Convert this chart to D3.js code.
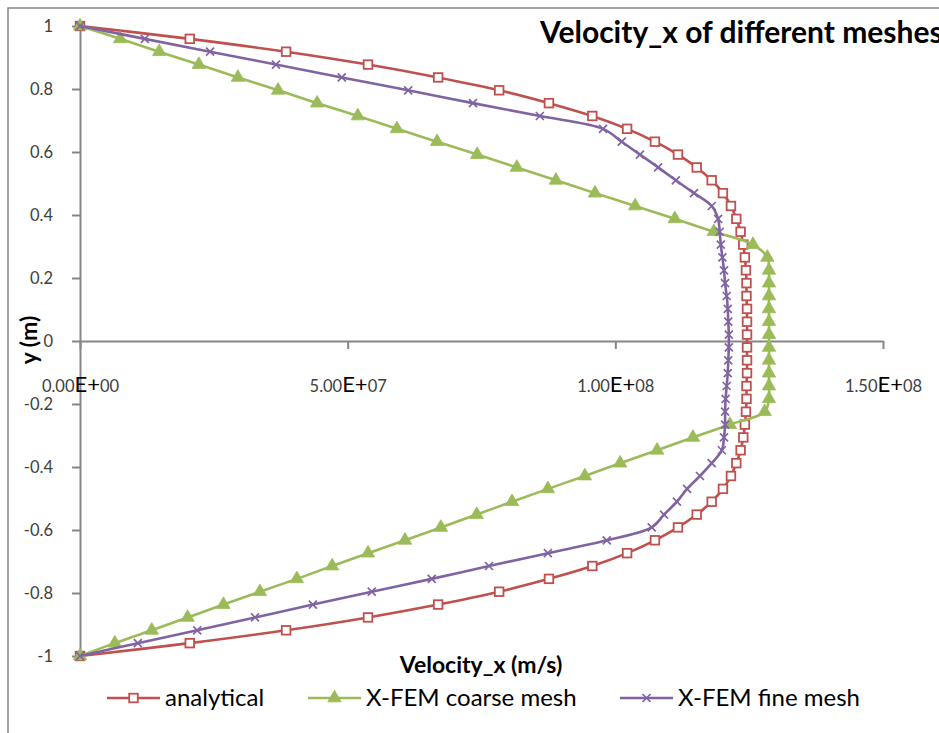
<!DOCTYPE html>
<html>
<head>
<meta charset="utf-8">
<script src="https://cdn.jsdelivr.net/npm/d3@7"></script>
<style>
  html, body { margin: 0; padding: 0; background: #fff; overflow: hidden; }
  svg { display: block; }
  text { font-family: Lato, "Open Sans", sans-serif; }
</style>
</head>
<body>
<svg id="chart" width="939" height="733"></svg>
<script>
// Sample positions across the channel height (m)
const yPositions = [
  1.0000, 0.9592, 0.9184, 0.8776, 0.8367, 0.7959, 0.7551, 0.7143, 0.6735, 0.6327,
  0.5918, 0.5510, 0.5102, 0.4694, 0.4286, 0.3878, 0.3469, 0.3061, 0.2653, 0.2245,
  0.1837, 0.1429, 0.1020, 0.0612, 0.0204, -0.0204, -0.0612, -0.1020, -0.1429, -0.1837,
  -0.2245, -0.2653, -0.3061, -0.3469, -0.3878, -0.4286, -0.4694, -0.5102, -0.5510, -0.5918,
  -0.6327, -0.6735, -0.7143, -0.7551, -0.7959, -0.8367, -0.8776, -0.9184, -0.9592, -1.0000
];

// Velocity_x for each position, in 10^6 m/s
const analytical = [
  0, 20.5, 38.5, 53.8, 66.9, 78.3, 87.6, 95.7, 102.2, 107.4,
  111.7, 115.2, 118.0, 120.1, 121.6, 122.6, 123.4, 123.9, 124.2, 124.4,
  124.5, 124.5, 124.6, 124.6, 124.6, 124.6, 124.6, 124.6, 124.5, 124.5,
  124.4, 124.2, 123.9, 123.4, 122.6, 121.6, 120.1, 118.0, 115.2, 111.7,
  107.4, 102.2, 95.7, 87.6, 78.3, 66.9, 53.8, 38.5, 20.5, 0
];
const coarseMesh = [
  0, 7.5, 14.8, 22.2, 29.5, 37.0, 44.3, 51.9, 59.2, 66.7,
  74.2, 81.6, 88.9, 96.2, 103.7, 111.1, 118.4, 125.7, 128.4, 128.7,
  128.7, 128.7, 128.7, 128.7, 128.7, 128.7, 128.7, 128.7, 128.7, 128.7,
  127.9, 121.4, 114.5, 107.8, 100.9, 94.3, 87.4, 80.7, 74.1, 67.4,
  60.7, 53.8, 47.1, 40.5, 33.6, 26.8, 20.1, 13.4, 6.5, 0
];
const fineMesh = [
  0, 12.1, 24.3, 36.6, 48.9, 61.3, 73.4, 85.9, 97.7, 101.2,
  104.6, 108.0, 111.3, 114.7, 118.0, 119.2, 119.5, 119.7, 120.0, 120.3,
  120.5, 120.8, 121.0, 121.1, 121.2, 121.2, 121.1, 121.0, 120.8, 120.6,
  120.5, 120.5, 120.3, 119.9, 118.0, 115.8, 113.4, 111.5, 109.1, 106.8,
  98.4, 87.4, 76.4, 65.7, 54.5, 43.5, 32.7, 21.9, 10.8, 0
];

const seriesNames = ["analytical", "X-FEM coarse mesh", "X-FEM fine mesh"];
const xTickValues = [0, 5e7, 1e8, 1.5e8];
const yTickValues = [1, 0.8, 0.6, 0.4, 0.2, 0, -0.2, -0.4, -0.6, -0.8, -1];
const yTickLabels = ["1", "0.8", "0.6", "0.4", "0.2", "0", "-0.2", "-0.4", "-0.6", "-0.8", "-1"];

const chartTitle = "Velocity_x of different meshes";
const xTitle = "Velocity_x (m/s)";
const yTitle = "y (m)";

const UNIT = 1e6;
const colors = ["#C0504D", "#9BBB59", "#8064A2"];
const markers = ["square", "triangle", "cross"];
const seriesValues = [analytical, coarseMesh, fineMesh];

const svg = d3.select("#chart");
const axisColor = "#868686";

// chart area frame
svg.append("rect")
  .attr("x", 8).attr("y", 8)
  .attr("width", 1200).attr("height", 1200)
  .attr("fill", "none").attr("stroke", axisColor).attr("stroke-width", 1.5);

const x = d3.scaleLinear().domain([0, 1.5e8]).range([80, 883]);
const y = d3.scaleLinear().domain([-1, 1]).range([656, 26]);

// Y axis
const yAxis = svg.append("g")
  .attr("transform", `translate(${x(0)},0)`)
  .call(d3.axisLeft(y).tickValues(yTickValues).tickSize(8).tickSizeOuter(0)
    .tickPadding(19).tickFormat((d, i) => yTickLabels[i]));
yAxis.select(".domain").attr("stroke", axisColor).attr("stroke-width", 2);
yAxis.selectAll(".tick line").attr("stroke", axisColor).attr("stroke-width", 2);
yAxis.selectAll(".tick text")
  .attr("fill", "#404040")
  .style("font-family", "Lato, sans-serif")
  .style("font-size", "16.5px");

// X axis, drawn through y = 0
const xAxis = svg.append("g")
  .attr("transform", `translate(0,${y(0)})`)
  .call(d3.axisBottom(x).tickValues(xTickValues).tickSize(8).tickSizeOuter(0).tickFormat(""));
xAxis.select(".domain").attr("stroke", axisColor).attr("stroke-width", 2);
xAxis.selectAll(".tick line").attr("stroke", axisColor).attr("stroke-width", 2);

// scientific tick labels, e.g. 5.00E+07
function sciParts(v) {
  const [m, e] = d3.format(".2e")(v).split("e");
  const sign = e[0] === "-" ? "-" : "+";
  const digits = e.replace(/^[+-]/, "").padStart(2, "0");
  return [m, "E" + sign, digits];
}
xAxis.selectAll(".tick").each(function(d) {
  const parts = sciParts(d);
  const t = d3.select(this).append("text")
    .attr("y", 51)
    .attr("text-anchor", "middle")
    .attr("fill", "#404040")
    .style("font-family", "Lato, sans-serif");
  t.append("tspan").style("font-size", "16.5px").text(parts[0]);
  t.append("tspan").style("font-size", "22px").attr("fill", "#000").text(parts[1]);
  t.append("tspan").style("font-size", "16.5px").text(parts[2]);
});

// markers
function drawMarker(g, type, color) {
  if (type === "square") {
    g.append("rect").attr("x", -4.3).attr("y", -4.3).attr("width", 8.6).attr("height", 8.6)
      .attr("fill", "#fff").attr("stroke", color).attr("stroke-width", 1.8);
  } else if (type === "triangle") {
    g.append("path").attr("d", d3.symbol(d3.symbolTriangle, 78)())
      .attr("fill", color).attr("stroke", color).attr("stroke-width", 0.8);
  } else {
    g.append("path").attr("d", "M-4,-4L4,4M-4,4L4,-4")
      .attr("fill", "none").attr("stroke", color).attr("stroke-width", 1.7);
  }
}

const line = d3.line()
  .x(d => x(d.v * UNIT))
  .y(d => y(d.y))
  .curve(d3.curveCatmullRom.alpha(0.5));

seriesValues.forEach((vals, s) => {
  const pts = vals.map((v, i) => ({ v, y: yPositions[i] }));
  const g = svg.append("g");
  g.append("path").datum(pts).attr("d", line)
    .attr("fill", "none").attr("stroke", colors[s]).attr("stroke-width", 2.6)
    .attr("stroke-linejoin", "round");
  g.selectAll("g.mk").data(pts).join("g")
    .attr("class", "mk")
    .attr("transform", d => `translate(${x(d.v * UNIT)},${y(d.y)})`)
    .each(function() { drawMarker(d3.select(this), markers[s], colors[s]); });
});

// titles
svg.append("text")
  .attr("x", 540).attr("y", 43)
  .style("font-family", "Lato, sans-serif").style("font-weight", "bold").style("font-size", "30px")
  .attr("fill", "#000").text(chartTitle);

svg.append("text")
  .attr("x", 481).attr("y", 673).attr("text-anchor", "middle")
  .style("font-family", "Lato, sans-serif").style("font-weight", "bold").style("font-size", "23px")
  .attr("fill", "#000").text(xTitle);

svg.append("text")
  .attr("transform", "translate(37,340) rotate(-90)").attr("text-anchor", "middle")
  .style("font-family", "Lato, sans-serif").style("font-weight", "bold").style("font-size", "23px")
  .attr("fill", "#000").text(yTitle);

// legend
const legendX = [107, 308, 620];
seriesNames.forEach((name, s) => {
  const g = svg.append("g").attr("transform", `translate(${legendX[s]},698)`);
  g.append("line").attr("x1", 0).attr("x2", 53).attr("y1", 0).attr("y2", 0)
    .attr("stroke", colors[s]).attr("stroke-width", 2.6);
  drawMarker(g.append("g").attr("transform", "translate(26.5,0)"), markers[s], colors[s]);
  g.append("text").attr("x", 58).attr("y", 8)
    .style("font-family", "Lato, sans-serif").style("font-size", "24px")
    .attr("fill", "#000").text(name);
});
</script>
</body>
</html>
